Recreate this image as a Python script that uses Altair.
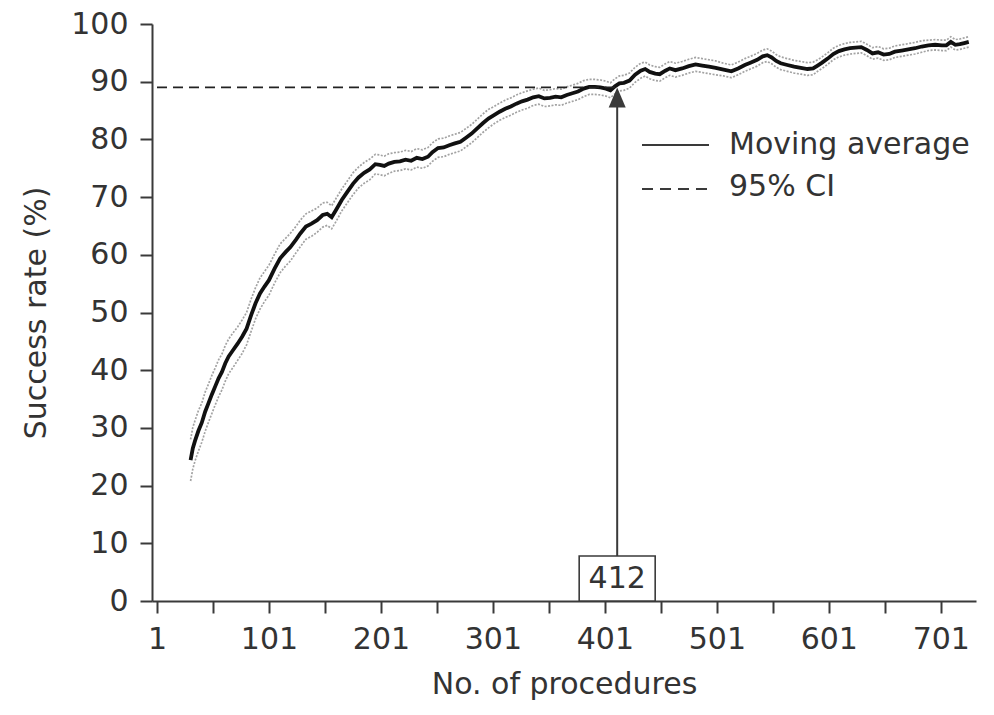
import altair as alt
import pandas as pd

# ---- data ----
procedures = [
    31, 33, 35, 38, 41, 44, 47, 50, 53, 56,
    59, 62, 65, 69, 73, 77, 81, 85, 89, 93,
    97, 101, 106, 111, 116, 120, 125, 129, 134, 139,
    144, 149, 153, 157, 161, 166, 171, 176, 181, 186,
    191, 196, 200, 204, 208, 213, 218, 223, 228, 233,
    238, 243, 247, 252, 257, 262, 267, 272, 277, 282,
    287, 292, 297, 302, 307, 312, 317, 322, 327, 332,
    337, 342, 347, 352, 357, 362, 367, 372, 377, 382,
    387, 392, 397, 402, 406, 410, 414, 418, 423, 428,
    433, 437, 441, 446, 450, 455, 459, 464, 470, 476,
    482, 488, 494, 500, 507, 514, 520, 526, 531, 537,
    542, 546, 550, 554, 558, 564, 570, 576, 582, 587,
    591, 595, 600, 605, 610, 615, 620, 625, 630, 635,
    640, 645, 650, 655, 660, 666, 672, 678, 684, 690,
    696, 702, 706, 710, 714, 718, 722, 726,
]
moving_avg = [
    24.4, 26.5, 27.8, 29.5, 30.9, 32.8, 34.3, 35.8, 37.2, 38.6,
    39.7, 41.2, 42.4, 43.5, 44.6, 45.8, 47.2, 49.5, 51.6, 53.3,
    54.5, 55.6, 57.6, 59.4, 60.5, 61.3, 62.6, 63.7, 64.9, 65.4,
    66.0, 66.9, 67.1, 66.5, 67.8, 69.5, 70.9, 72.3, 73.4, 74.2,
    74.8, 75.7, 75.6, 75.4, 75.8, 76.1, 76.2, 76.5, 76.3, 76.8,
    76.6, 77.0, 77.8, 78.5, 78.6, 79.0, 79.3, 79.6, 80.3, 81.0,
    81.9, 82.8, 83.6, 84.2, 84.8, 85.3, 85.7, 86.2, 86.6, 86.9,
    87.3, 87.5, 87.1, 87.2, 87.4, 87.3, 87.7, 88.0, 88.3, 88.8,
    89.1, 89.1, 89.0, 88.8, 88.5, 89.2, 89.7, 89.8, 90.2, 91.2,
    91.9, 92.2, 91.7, 91.4, 91.3, 91.9, 92.3, 92.0, 92.3, 92.7,
    93.0, 92.8, 92.6, 92.4, 92.1, 91.8, 92.3, 92.9, 93.3, 93.8,
    94.4, 94.6, 94.2, 93.6, 93.2, 92.9, 92.6, 92.4, 92.2, 92.3,
    92.8, 93.3, 94.0, 94.8, 95.3, 95.6, 95.8, 95.9, 96.0, 95.5,
    94.9, 95.1, 94.7, 94.8, 95.2, 95.4, 95.6, 95.8, 96.1, 96.3,
    96.4, 96.3, 96.3, 96.9, 96.4, 96.5, 96.7, 96.9,
]
ci_half_width = [
    3.6, 3.6, 3.5, 3.5, 3.4, 3.4, 3.3, 3.3, 3.2, 3.2,
    3.1, 3.1, 3.0, 3.0, 2.9, 2.9, 2.8, 2.8, 2.7, 2.7,
    2.6, 2.6, 2.5, 2.5, 2.4, 2.4, 2.3, 2.3, 2.2, 2.2,
    2.1, 2.1, 2.0, 2.0, 2.0, 1.9, 1.9, 1.9, 1.8, 1.8,
    1.8, 1.7, 1.7, 1.7, 1.7, 1.6, 1.6, 1.6, 1.6, 1.6,
    1.6, 1.6, 1.6, 1.6, 1.6, 1.6, 1.6, 1.6, 1.6, 1.6,
    1.6, 1.6, 1.6, 1.5, 1.5, 1.5, 1.5, 1.5, 1.5, 1.5,
    1.4, 1.4, 1.4, 1.4, 1.4, 1.4, 1.4, 1.4, 1.4, 1.4,
    1.3, 1.3, 1.3, 1.3, 1.3, 1.3, 1.3, 1.3, 1.3, 1.3,
    1.3, 1.2, 1.2, 1.2, 1.2, 1.2, 1.2, 1.2, 1.2, 1.2,
    1.2, 1.2, 1.2, 1.2, 1.1, 1.1, 1.1, 1.1, 1.1, 1.1,
    1.1, 1.1, 1.1, 1.1, 1.1, 1.1, 1.1, 1.1, 1.1, 1.1,
    1.0, 1.0, 1.0, 1.0, 1.0, 1.0, 1.0, 1.0, 1.0, 1.0,
    1.0, 1.0, 1.0, 1.0, 1.0, 1.0, 1.0, 1.0, 1.0, 0.9,
    0.9, 0.9, 0.9, 0.9, 0.9, 0.9, 0.9, 0.9,
]

x_ticks = [1, 51, 101, 151, 201, 251, 301, 351, 401, 451, 501, 551, 601, 651, 701]
y_ticks = [0, 10, 20, 30, 40, 50, 60, 70, 80, 90, 100]

target_rate = 89
cutoff_procedure = 412
cutoff_label = "412"
legend_labels = ["Moving average", "95% CI"]

# ---- tables ----
main_df = pd.DataFrame({"procedure": procedures, "rate": moving_avg})
ci_df = pd.concat([
    pd.DataFrame({"procedure": procedures,
                  "rate": [m - h for m, h in zip(moving_avg, ci_half_width)],
                  "bound": "lower"}),
    pd.DataFrame({"procedure": procedures,
                  "rate": [m + h for m, h in zip(moving_avg, ci_half_width)],
                  "bound": "upper"}),
])

FONT = "DejaVu Sans"
TXT = "#333333"
AX = "#3a3a3a"

x_scale = alt.Scale(domain=[1, 728], nice=False, zero=False)
y_scale = alt.Scale(domain=[0, 100], nice=False)

axis_style = dict(
    grid=False, domainColor=AX, domainWidth=2, tickColor=AX, tickWidth=2, tickSize=12,
    labelFont=FONT, labelFontSize=30, labelColor=TXT,
    titleFont=FONT, titleFontSize=30, titleColor=TXT, titleFontWeight="normal",
)
x_axis = alt.Axis(
    values=x_ticks,
    labelExpr="(datum.value - 1) % 100 == 0 ? datum.label : ''",
    title="No. of procedures",
    labelPadding=11,
    titlePadding=15,
    **axis_style,
)
y_axis = alt.Axis(
    values=y_ticks,
    title="Success rate (%)",
    labelPadding=12,
    titlePadding=19,
    **axis_style,
)

X = lambda f: alt.X(f, type="quantitative", scale=x_scale, axis=x_axis)
Y = lambda f: alt.Y(f, type="quantitative", scale=y_scale, axis=y_axis)

ci_lines = alt.Chart(ci_df).mark_line(
    color="#a3a3a3", strokeWidth=1.7, strokeDash=[2, 1.5]
).encode(x=X("procedure"), y=Y("rate"), detail="bound:N")

main_line = alt.Chart(main_df).mark_line(
    color="#111111", strokeWidth=3.8
).encode(x=X("procedure"), y=Y("rate"))

ann_df = pd.DataFrame({
    "x_start": [1], "x_cut": [cutoff_procedure], "y_target": [target_rate],
    "box_bottom": [0], "box_top": [7.8], "box_mid": [3.9], "label": [cutoff_label],
    "shaft_top": [87.0],
})

hline = alt.Chart(ann_df).mark_rule(
    color="#222222", strokeWidth=1.8, strokeDash=[10, 6]
).encode(x=X("x_start"), x2="x_cut:Q", y=Y("y_target"))

shaft = alt.Chart(ann_df).mark_rule(color=AX, strokeWidth=2).encode(
    x=X("x_cut"), y=Y("box_top"), y2="shaft_top:Q"
)

arrow_head = alt.Chart(ann_df).mark_point(
    shape="M0,-1L-0.85,1L0.85,1Z", size=400, filled=True, color=AX, opacity=1, yOffset=10
).encode(x=X("x_cut"), y=Y("y_target"))

box = alt.Chart(ann_df).mark_bar(
    width=76, fill="white", stroke=AX, strokeWidth=1.6
).encode(x=X("x_cut"), y=Y("box_bottom"), y2="box_top:Q")

box_text = alt.Chart(ann_df).mark_text(
    font=FONT, fontSize=30, color=TXT, baseline="middle", align="center", dy=1
).encode(x=X("x_cut"), y=Y("box_mid"), text="label:N")

# ---- legend (drawn by hand) ----
leg_df = pd.DataFrame({"a": [0]})
leg_solid = alt.Chart(leg_df).mark_rule(color=AX, strokeWidth=2).encode(
    x=alt.value(490), x2=alt.value(557), y=alt.value(121)
)
leg_dash = alt.Chart(leg_df).mark_rule(color=AX, strokeWidth=2, strokeDash=[11, 7]).encode(
    x=alt.value(490), x2=alt.value(557), y=alt.value(165)
)
leg_t1 = alt.Chart(leg_df).mark_text(
    font=FONT, fontSize=30, color=TXT, align="left", baseline="middle"
).encode(x=alt.value(577), y=alt.value(121), text=alt.value(legend_labels[0]))
leg_t2 = alt.Chart(leg_df).mark_text(
    font=FONT, fontSize=30, color=TXT, align="left", baseline="middle"
).encode(x=alt.value(577), y=alt.value(163), text=alt.value(legend_labels[1]))

chart = alt.layer(
    ci_lines, main_line, hline, shaft, arrow_head, box, box_text,
    leg_solid, leg_dash, leg_t1, leg_t2,
).properties(
    width=824, height=577,
    padding={"left": 144, "top": 16, "right": 10, "bottom": 101},
    autosize=alt.AutoSizeParams(type="none"),
    background="white",
).configure_view(stroke=None)

chart.save("out.html", embed_options={"renderer": "svg", "actions": False})
